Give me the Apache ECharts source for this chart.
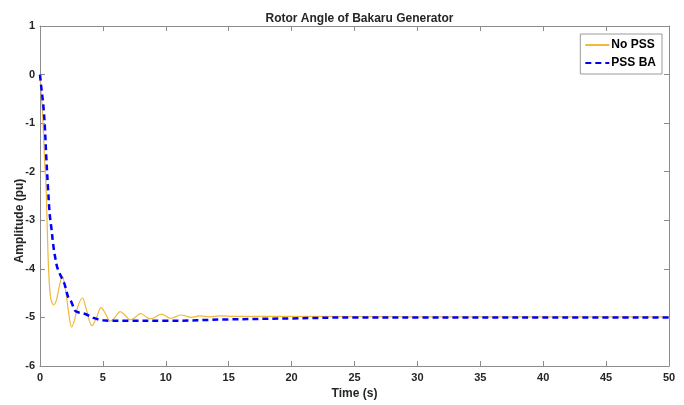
<!DOCTYPE html>
<html>
<head>
<meta charset="utf-8">
<script src="https://cdn.jsdelivr.net/npm/echarts@6/dist/echarts.min.js"></script>
<style>html,body{margin:0;padding:0;background:#fff}#c{width:684px;height:405px}</style>
</head>
<body>
<div id="c"></div>
<script>
// Time (s) / value (pu) pairs
var noPSS = [
  [0,0],[0.12,-0.45],[0.24,-0.98],[0.37,-1.8],[0.48,-2.3],[0.58,-3.2],[0.7,-4.1],[0.85,-4.6],
  [1.08,-4.74],[1.3,-4.65],[1.5,-4.4],[1.78,-4.15],[2.0,-4.38],[2.25,-4.85],[2.52,-5.2],
  [2.75,-5.05],[3.0,-4.78],[3.37,-4.6],[3.7,-4.85],[4.13,-5.17],[4.5,-5.0],[4.85,-4.8],
  [5.2,-4.92],[5.58,-5.08],[5.95,-5.0],[6.38,-4.88],[6.78,-4.96],[7.17,-5.05],[7.56,-5.0],
  [8.0,-4.92],[8.4,-4.98],[8.8,-5.03],[9.2,-4.99],[9.62,-4.93],[10.0,-4.97],[10.35,-5.02],
  [10.75,-4.99],[11.18,-4.95],[11.6,-4.97],[12.0,-5.0],[12.7,-4.97],[13.5,-4.99],[14.3,-4.97],
  [15.5,-4.98],[20,-4.98],[30,-4.99],[40,-4.99],[50,-4.99]
];
var pssBA = [
  [0,0],[0.12,-0.3],[0.25,-0.6],[0.37,-1.0],[0.5,-1.7],[0.64,-2.35],[0.78,-2.9],[0.9,-3.15],
  [1.05,-3.5],[1.17,-3.71],[1.35,-3.95],[1.49,-4.05],[1.75,-4.2],[1.96,-4.32],[2.25,-4.59],
  [2.49,-4.68],[2.78,-4.86],[3.1,-4.9],[3.6,-4.93],[4.25,-5.01],[5.0,-5.06],[5.6,-5.07],
  [7,-5.07],[10,-5.07],[15,-5.04],[20,-5.02],[25,-5.0],[30,-5.0],[40,-5.0],[50,-5.0]
];
var seriesNames = ['No PSS', 'PSS BA'];
var titleText = 'Rotor Angle of Bakaru Generator';
var xName = 'Time (s)';
var yName = 'Amplitude (pu)';

var FONT = "'Liberation Sans Narrow','Liberation Sans',Arial,sans-serif";
var axisGray = '#8c8c8c';
var txt = '#262626';
var yellow = '#F0B93A';

var chart = echarts.init(document.getElementById('c'), null, {renderer: 'canvas'});
function baseX(pos, showLabel) {
  return {
    type: 'value', position: pos, min: 0, max: 50, interval: 5,
    axisLine: {show: true, onZero: false, lineStyle: {color: axisGray, width: 1}},
    axisTick: {show: true, inside: true, length: 5, lineStyle: {color: axisGray}},
    axisLabel: {show: showLabel, color: txt, fontFamily: FONT, fontWeight: 'bold', fontSize: 11, margin: 6},
    splitLine: {show: false}
  };
}
function baseY(pos, showLabel) {
  return {
    type: 'value', position: pos, min: -6, max: 1, interval: 1,
    axisLine: {show: true, onZero: false, lineStyle: {color: axisGray, width: 1}},
    axisTick: {show: true, inside: true, length: 5, lineStyle: {color: axisGray}},
    axisLabel: {show: showLabel, color: txt, fontFamily: FONT, fontWeight: 'bold', fontSize: 11, margin: 5},
    splitLine: {show: false}
  };
}
var xb = baseX('bottom', true);
xb.name = xName; xb.nameLocation = 'middle'; xb.nameGap = 22;
xb.nameTextStyle = {color: txt, fontFamily: FONT, fontWeight: 'bold', fontSize: 12};

chart.setOption({
  animation: false,
  backgroundColor: '#fff',
  title: {
    text: titleText, left: 354.5, top: 8, textAlign: 'center',
    textStyle: {color: txt, fontFamily: FONT, fontWeight: 'bold', fontSize: 12}
  },
  grid: {left: 40, right: 15, top: 26, bottom: 36, containLabel: false},
  legend: {
    orient: 'vertical', right: 22, top: 34,
    data: seriesNames,
    itemWidth: 24, itemHeight: 10, itemGap: 6,
    padding: [5, 6, 5, 4],
    borderColor: '#9a9a9a', borderWidth: 1, backgroundColor: '#fff',
    itemStyle: {opacity: 0},
    textStyle: {color: '#000', fontFamily: FONT, fontWeight: 'bold', fontSize: 12, padding: [0, 0, 0, -3]}
  },
  xAxis: [xb, baseX('top', false)],
  yAxis: [baseY('left', true), baseY('right', false)],
  graphic: [{
    type: 'text', x: 20, y: 221, rotation: Math.PI / 2,
    style: {text: yName, fill: txt, font: "bold 12px " + FONT, textAlign: 'center', textVerticalAlign: 'middle'}
  }],
  series: [
    {
      name: seriesNames[0], type: 'line', data: noPSS, symbol: 'none', smooth: 0.35,
      xAxisIndex: 0, yAxisIndex: 0,
      lineStyle: {color: yellow, width: 1.2}, itemStyle: {color: yellow}, z: 2
    },
    {
      name: seriesNames[1], type: 'line', data: pssBA, symbol: 'none', smooth: 0.35,
      xAxisIndex: 0, yAxisIndex: 0,
      lineStyle: {color: '#0000FF', width: 2.5, type: [6, 4]}, itemStyle: {color: '#0000FF'}, z: 3
    }
  ]
});
</script>
</body>
</html>
